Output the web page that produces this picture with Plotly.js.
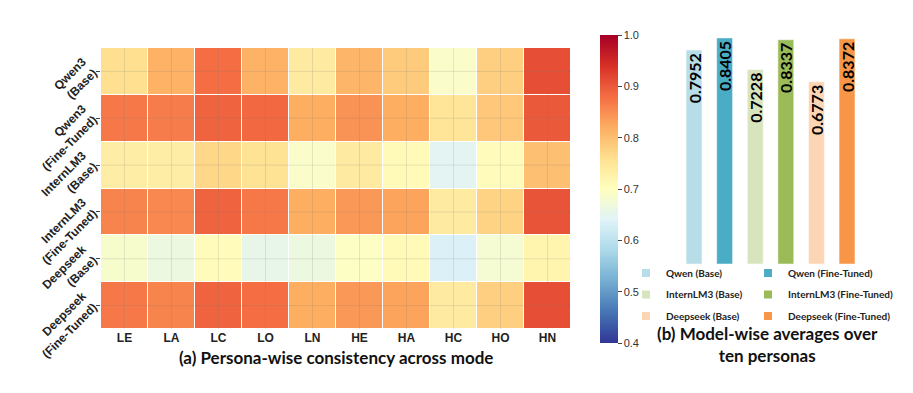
<!DOCTYPE html>
<html>
<head>
<meta charset="utf-8">
<script src="https://cdn.plot.ly/plotly-3.0.1.min.js"></script>
<style>html,body{margin:0;padding:0;background:#fff}</style>
</head>
<body>
<div id="plot" style="width:913px;height:393px"></div>
<script>
// heatmap data (rows = models, cols = personas)
let personas = ['LE', 'LA', 'LC', 'LO', 'LN', 'HE', 'HA', 'HC', 'HO', 'HN'];
let models = ['Qwen3<br>(Base)', 'Qwen3<br>(Fine-Tuned)', 'InternLM3<br>(Base)',
  'InternLM3<br>(Fine-Tuned)', 'Deepseek<br>(Base)', 'Deepseek<br>(Fine-Tuned)'];

let qwenBase = [0.76, 0.815, 0.88, 0.815, 0.74, 0.81, 0.785, 0.69, 0.78, 0.91];
let qwenTuned = [0.87, 0.865, 0.89, 0.885, 0.82, 0.845, 0.82, 0.75, 0.79, 0.90];
let internBase = [0.735, 0.735, 0.77, 0.755, 0.69, 0.74, 0.71, 0.645, 0.705, 0.80];
let internTuned = [0.86, 0.855, 0.89, 0.87, 0.82, 0.84, 0.83, 0.74, 0.775, 0.905];
let deepseekBase = [0.685, 0.665, 0.705, 0.655, 0.665, 0.695, 0.71, 0.635, 0.68, 0.72];
let deepseekTuned = [0.87, 0.86, 0.89, 0.88, 0.82, 0.84, 0.83, 0.74, 0.78, 0.91];

// bar chart data
let barNames = ['Qwen (Base)', 'Qwen (Fine-Tuned)', 'InternLM3 (Base)',
  'InternLM3 (Fine-Tuned)', 'Deepseek (Base)', 'Deepseek (Fine-Tuned)'];
let barValues = [0.7952, 0.8405, 0.7228, 0.8337, 0.6773, 0.8372];
let barColors = ['#b7dde8', '#4bacc6', '#d7e4bd', '#9bbb59', '#fcd5b5', '#f79646'];

let rdylbu = [
  [0.0, '#313695'], [0.1, '#4575b4'], [0.2, '#74add1'], [0.3, '#abd9e9'],
  [0.4, '#e0f3f8'], [0.5, '#ffffbf'], [0.6, '#fee090'], [0.7, '#fdae61'],
  [0.8, '#f46d43'], [0.9, '#d73027'], [1.0, '#a50026']
];

let heat = {
  type: 'heatmap',
  x: personas,
  y: models,
  z: [qwenBase, qwenTuned, internBase, internTuned, deepseekBase, deepseekTuned],
  zmin: 0.4,
  zmax: 1.0,
  colorscale: rdylbu,
  xgap: 1,
  ygap: 1,
  showlegend: false,
  colorbar: {
    x: 0.657, xanchor: 'left', xpad: 0,
    y: 1 - 189 / 393, yanchor: 'middle', ypad: 0,
    len: 308 / 393, thickness: 18,
    outlinewidth: 0,
    tickvals: [0.4, 0.5, 0.6, 0.7, 0.8, 0.9, 1.0],
    tickformat: '.1f',
    ticks: 'outside', ticklen: 4, tickcolor: '#444',
    tickfont: {family: 'Liberation Sans', size: 11, color: '#333'}
  }
};

let data = [heat];
for (let i = 0; i < barNames.length; i++) {
  data.push({
    type: 'bar',
    x: [barNames[i]],
    y: [barValues[i]],
    name: barNames[i],
    xaxis: 'x2',
    yaxis: 'y2',
    width: 0.52,
    showlegend: false,
    marker: {color: barColors[i], line: {color: '#fff', width: 0.5}},
    texttemplate: '%{y:.4f}',
    textposition: 'inside',
    insidetextanchor: 'end',
    textangle: -90,
    constraintext: 'none',
    textfont: {family: 'Lato', size: 16, color: '#000', weight: 700},
    hoverinfo: 'x+y'
  });
}

// one small legend per entry, laid out as a 2-column grid
let legendIds = ['legend', 'legend2', 'legend3', 'legend4', 'legend5', 'legend6'];
let legendLayout = {};
for (let i = 0; i < barNames.length; i++) {
  data.push({
    type: 'scatter',
    mode: 'markers',
    x: [null],
    y: [null],
    xaxis: 'x2',
    yaxis: 'y2',
    name: barNames[i],
    marker: {symbol: 'square', size: 8, color: barColors[i]},
    legend: legendIds[i],
    hoverinfo: 'skip'
  });
  let col = i % 2;
  let row = Math.floor(i / 2);
  legendLayout[legendIds[i]] = {
    x: (626 + col * 122) / 913, xanchor: 'left',
    y: 1 - (273 + row * 21.5) / 393, yanchor: 'middle',
    itemwidth: 30,
    font: {family: 'Lato', size: 10, color: '#222', weight: 700},
    bgcolor: 'rgba(0,0,0,0)'
  };
}

// faint grid lines through cell centres
let shapes = [];
personas.forEach(p => shapes.push({
  type: 'line', xref: 'x', yref: 'y domain', x0: p, x1: p, y0: 0, y1: 1,
  line: {color: 'rgba(120,120,120,0.18)', width: 1}, layer: 'above'
}));
models.forEach(m => shapes.push({
  type: 'line', xref: 'x domain', yref: 'y', x0: 0, x1: 1, y0: m, y1: m,
  line: {color: 'rgba(120,120,120,0.18)', width: 1}, layer: 'above'
}));

let layout = Object.assign({
  width: 913,
  height: 393,
  margin: {l: 0, r: 0, t: 0, b: 0},
  paper_bgcolor: '#fff',
  plot_bgcolor: '#fff',
  barmode: 'overlay',
  showlegend: true,
  xaxis: {
    domain: [0.1106, 0.6254],
    showgrid: false, zeroline: false, ticks: '',
    tickfont: {family: 'Liberation Sans', size: 12, color: '#222', weight: 700}
  },
  yaxis: {
    domain: [0.1628, 0.8779],
    autorange: 'reversed',
    showgrid: false, zeroline: false,
    ticks: 'outside', ticklen: 4, tickcolor: '#444',
    tickangle: -45,
    tickfont: {family: 'Liberation Sans', size: 12, color: '#222', weight: 700}
  },
  xaxis2: {
    domain: [0.7434, 0.9445], anchor: 'y2',
    type: 'category', categoryarray: barNames, range: [-0.5, 5.5],
    visible: false
  },
  yaxis2: {
    domain: [0.3282, 0.9237], anchor: 'x2',
    range: [0, 0.87], visible: false
  },
  shapes: shapes,
  annotations: [
    {
      text: '(a) Persona-wise consistency across mode',
      xref: 'paper', yref: 'paper', x: 0.368, y: 1 - 357 / 393,
      xanchor: 'center', yanchor: 'middle', showarrow: false,
      font: {family: 'Lato', size: 17, color: '#111', weight: 700}
    },
    {
      text: '(b) Model-wise averages over<br>ten personas',
      xref: 'paper', yref: 'paper', x: 0.841, y: 1 - 344 / 393,
      xanchor: 'center', yanchor: 'middle', showarrow: false,
      font: {family: 'Lato', size: 17, color: '#111', weight: 700}
    }
  ]
}, legendLayout);

Plotly.newPlot('plot', data, layout, {displayModeBar: false});
</script>
</body>
</html>
